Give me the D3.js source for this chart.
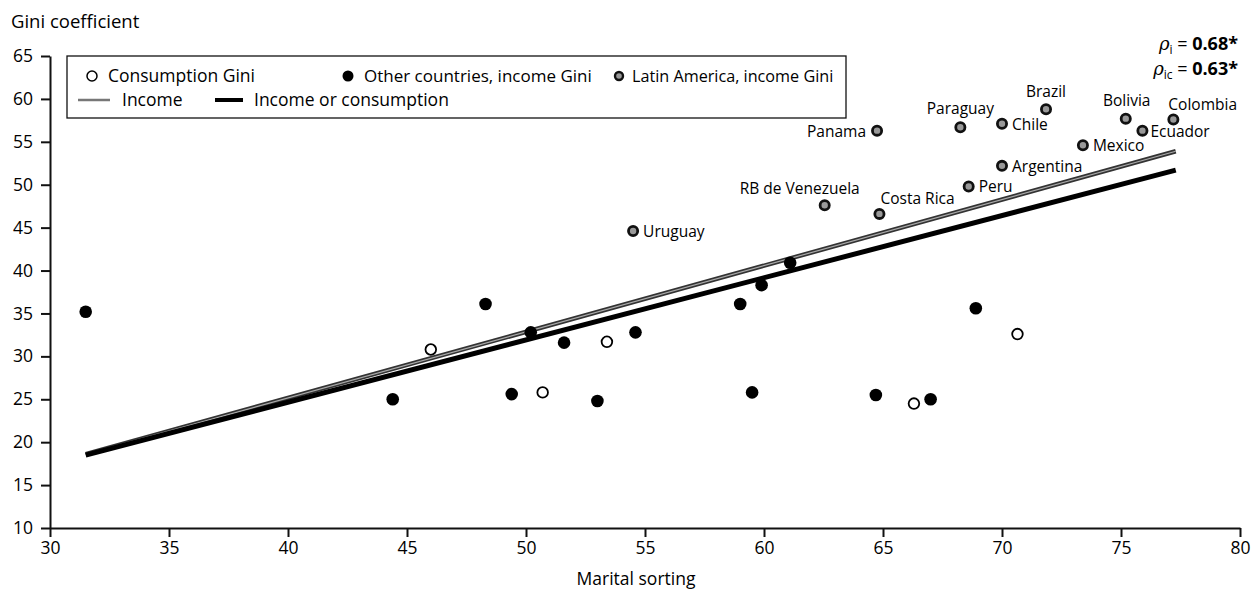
<!DOCTYPE html>
<html>
<head>
<meta charset="utf-8">
<script src="https://cdn.jsdelivr.net/npm/d3@7"></script>
<style>
  body { margin: 0; background: #fff; }
  text { font-family: "Open Sans", "Noto Sans", sans-serif; fill: #000; }
</style>
</head>
<body>
<div id="chart"></div>
<script>
// x = marital sorting, y = Gini coefficient
const consumptionGini = [
  [46.0, 30.8], [50.7, 25.8], [53.4, 31.7], [66.3, 24.5], [70.65, 32.6]
];
const otherIncomeGini = [
  [31.5, 35.2], [44.4, 25.0], [48.3, 36.1], [49.4, 25.6], [50.2, 32.8],
  [51.6, 31.6], [53.0, 24.8], [54.6, 32.8], [59.0, 36.1], [59.5, 25.8],
  [59.9, 38.3], [61.1, 40.9], [64.7, 25.5], [67.0, 25.0], [68.9, 35.6]
];
const latinNames = ["Uruguay", "RB de Venezuela", "Panama", "Costa Rica", "Paraguay", "Peru",
  "Chile", "Argentina", "Brazil", "Mexico", "Bolivia", "Ecuador", "Colombia"];
const latinX = [54.5, 62.55, 64.75, 64.85, 68.25, 68.6, 70.0, 70.0, 71.85, 73.4, 75.2, 75.9, 77.2];
const latinY = [44.6, 47.6, 56.3, 46.6, 56.7, 49.8, 57.1, 52.2, 58.8, 54.6, 57.7, 56.3, 57.6];

// fitted lines: start and end of each
const fitX = [31.5, 77.3];
const incomeFit = [18.6, 53.9];
const pooledFit = [18.5, 51.7];

const xTicks = [30, 35, 40, 45, 50, 55, 60, 65, 70, 75, 80];
const yTicks = [10, 15, 20, 25, 30, 35, 40, 45, 50, 55, 60, 65];

const width = 1253, height = 592;
const margin = {left: 50, right: 13, top: 56, bottom: 64};

const svg = d3.select("#chart").append("svg")
  .attr("width", width)
  .attr("height", height);

const x = d3.scaleLinear().domain([30, 80]).range([margin.left, width - margin.right]);
const y = d3.scaleLinear().domain([10, 65]).range([height - margin.bottom, margin.top]);

// axes
const xAxis = svg.append("g")
  .attr("transform", `translate(0,${height - margin.bottom})`)
  .call(d3.axisBottom(x).tickValues(xTicks).tickSize(9).tickSizeOuter(0).tickPadding(5));
const yAxis = svg.append("g")
  .attr("transform", `translate(${margin.left},0)`)
  .call(d3.axisLeft(y).tickValues(yTicks).tickSize(9).tickSizeOuter(0).tickPadding(8));

[xAxis, yAxis].forEach(g => {
  g.select(".domain").attr("stroke", "#111").attr("stroke-width", 2);
  g.selectAll(".tick line").attr("stroke", "#111").attr("stroke-width", 2);
  g.selectAll(".tick text")
    .attr("font-family", "Open Sans, sans-serif")
    .attr("font-size", 17.5)
    .attr("fill", "#000");
});

svg.append("text")
  .attr("x", 11).attr("y", 28)
  .attr("font-size", 18.5)
  .text("Gini coefficient");

svg.append("text")
  .attr("x", 636).attr("y", 585)
  .attr("text-anchor", "middle")
  .attr("font-size", 17.5)
  .text("Marital sorting");

// regression lines
const line = d3.line().x(d => x(d[0])).y(d => y(d[1]));
const incomePts = fitX.map((v, i) => [v, incomeFit[i]]);
const pooledPts = fitX.map((v, i) => [v, pooledFit[i]]);

svg.append("path").attr("d", line(incomePts))
  .attr("fill", "none").attr("stroke", "#333").attr("stroke-width", 4.5);
svg.append("path").attr("d", line(incomePts))
  .attr("fill", "none").attr("stroke", "#aaa").attr("stroke-width", 1.2);
svg.append("path").attr("d", line(pooledPts))
  .attr("fill", "none").attr("stroke", "#000").attr("stroke-width", 5);

// points
svg.selectAll(".other").data(otherIncomeGini).enter()
  .append("circle").attr("class", "other")
  .attr("cx", d => x(d[0])).attr("cy", d => y(d[1]))
  .attr("r", 6.3).attr("fill", "#000");

svg.selectAll(".cons").data(consumptionGini).enter()
  .append("circle").attr("class", "cons")
  .attr("cx", d => x(d[0])).attr("cy", d => y(d[1]))
  .attr("r", 5.3).attr("fill", "#fff").attr("stroke", "#000").attr("stroke-width", 1.8);

const latin = latinNames.map((name, i) => ({name, x: latinX[i], y: latinY[i]}));

// label placement relative to the dot: [dx, dy, anchor]
const labelPos = {
  "Uruguay": [10, 6, "start"],
  "RB de Venezuela": [-25, -11, "middle"],
  "Panama": [-11, 6, "end"],
  "Costa Rica": [1, -10, "start"],
  "Paraguay": [0, -13, "middle"],
  "Peru": [10, 6, "start"],
  "Chile": [10, 6, "start"],
  "Argentina": [10, 6, "start"],
  "Brazil": [0, -12, "middle"],
  "Mexico": [10, 6, "start"],
  "Bolivia": [1, -13, "middle"],
  "Ecuador": [8, 6, "start"],
  "Colombia": [-5, -10, "start"]
};

svg.selectAll(".latin").data(latin).enter()
  .append("circle").attr("class", "latin")
  .attr("cx", d => x(d.x)).attr("cy", d => y(d.y))
  .attr("r", 4.6).attr("fill", "#999").attr("stroke", "#111").attr("stroke-width", 2.8);

svg.selectAll(".latinLabel").data(latin).enter()
  .append("text").attr("class", "latinLabel")
  .attr("x", d => x(d.x) + labelPos[d.name][0])
  .attr("y", d => y(d.y) + labelPos[d.name][1])
  .attr("text-anchor", d => labelPos[d.name][2])
  .attr("font-size", 15.5)
  .text(d => d.name);

// legend
const legend = svg.append("g");
legend.append("rect")
  .attr("x", 67).attr("y", 56).attr("width", 779).attr("height", 62)
  .attr("fill", "#fff").attr("stroke", "#111").attr("stroke-width", 1.3);

legend.append("circle").attr("cx", 92).attr("cy", 76).attr("r", 5)
  .attr("fill", "#fff").attr("stroke", "#000").attr("stroke-width", 1.5);
legend.append("text").attr("x", 108).attr("y", 82).attr("font-size", 17.5).text("Consumption Gini");

legend.append("circle").attr("cx", 348).attr("cy", 76).attr("r", 5.5).attr("fill", "#000");
legend.append("text").attr("x", 364).attr("y", 82).attr("font-size", 17).text("Other countries, income Gini");

legend.append("circle").attr("cx", 619).attr("cy", 76).attr("r", 4)
  .attr("fill", "#999").attr("stroke", "#111").attr("stroke-width", 2.4);
legend.append("text").attr("x", 632).attr("y", 82).attr("font-size", 16.2).text("Latin America, income Gini");

legend.append("line").attr("x1", 78).attr("x2", 110).attr("y1", 100).attr("y2", 100)
  .attr("stroke", "#777").attr("stroke-width", 2.5);
legend.append("text").attr("x", 122).attr("y", 106).attr("font-size", 17.5).text("Income");

legend.append("line").attr("x1", 215).attr("x2", 243).attr("y1", 100).attr("y2", 100)
  .attr("stroke", "#000").attr("stroke-width", 4);
legend.append("text").attr("x", 254).attr("y", 106).attr("font-size", 17.5).text("Income or consumption");

// correlation annotation
const rho = svg.append("g").attr("text-anchor", "end");
const t1 = rho.append("text").attr("x", 1238).attr("y", 50).attr("font-size", 18);
t1.append("tspan").attr("font-style", "italic").attr("font-family", "DejaVu Serif, serif").text("ρ");
t1.append("tspan").attr("font-size", 12).attr("dy", 4).text("i");
t1.append("tspan").attr("dy", -4).text(" = ");
t1.append("tspan").attr("font-weight", "bold").text("0.68*");

const t2 = rho.append("text").attr("x", 1238).attr("y", 75).attr("font-size", 18);
t2.append("tspan").attr("font-style", "italic").attr("font-family", "DejaVu Serif, serif").text("ρ");
t2.append("tspan").attr("font-size", 12).attr("dy", 4).text("ic");
t2.append("tspan").attr("dy", -4).text(" = ");
t2.append("tspan").attr("font-weight", "bold").text("0.63*");
</script>
</body>
</html>
